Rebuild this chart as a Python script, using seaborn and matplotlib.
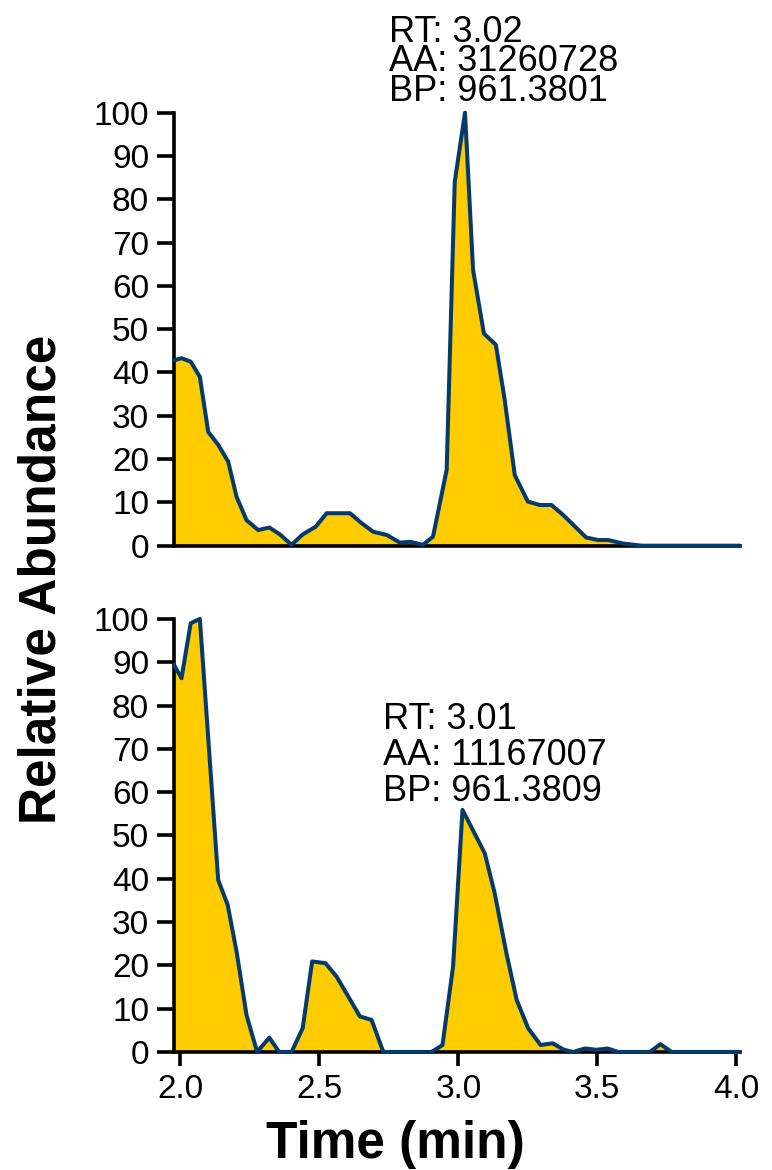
import numpy as np
import pandas as pd
import matplotlib
matplotlib.use("Agg")
import matplotlib.pyplot as plt
import seaborn as sns

# Cromatogramas (tiempo en min, abundancia relativa en %)
top_time = [1.977, 2.004, 2.037, 2.07, 2.10, 2.136, 2.172, 2.202, 2.238, 2.28, 2.32,
            2.358, 2.40, 2.44, 2.487, 2.526, 2.61, 2.652, 2.694, 2.742, 2.79, 2.826,
            2.873, 2.909, 2.958, 2.987, 3.024, 3.053, 3.092, 3.135, 3.167, 3.203,
            3.25, 3.293, 3.335, 3.377, 3.42, 3.46, 3.503, 3.54, 3.593, 3.66, 4.013]
top_abund = [42.8, 43.3, 42.5, 39.0, 26.3, 23.3, 19.4, 11.3, 5.9, 3.6, 4.2,
             2.6, 0.2, 2.6, 4.4, 7.5, 7.5, 5.2, 3.2, 2.5, 0.7, 0.9,
             0.2, 2.1, 17.5, 84.0, 100.0, 63.7, 49.0, 46.4, 33.6, 16.3,
             10.2, 9.4, 9.4, 7.1, 4.4, 1.9, 1.3, 1.3, 0.5, 0.0, 0.0]

bot_time = [1.977, 2.004, 2.037, 2.07, 2.136, 2.17, 2.202, 2.238, 2.276, 2.32, 2.355,
            2.40, 2.44, 2.474, 2.522, 2.562, 2.604, 2.646, 2.688, 2.73, 2.904, 2.943,
            2.981, 3.015, 3.095, 3.131, 3.173, 3.21, 3.251, 3.296, 3.339, 3.38, 3.413,
            3.455, 3.497, 3.537, 3.575, 3.689, 3.727, 3.767, 4.013]
bot_abund = [89.4, 86.3, 99.0, 100.0, 39.7, 34.0, 23.2, 8.5, 0.0, 3.3, 0.0,
             0.0, 5.5, 20.9, 20.5, 17.4, 12.8, 8.2, 7.4, 0.0, 0.0, 1.6,
             19.7, 55.9, 45.9, 36.6, 22.8, 12.0, 5.5, 1.6, 2.0, 0.5, 0.0,
             0.8, 0.5, 0.8, 0.0, 0.0, 1.8, 0.0, 0.0]

top_notes = ["RT: 3.02", "AA: 31260728", "BP: 961.3801"]
bot_notes = ["RT: 3.01", "AA: 11167007", "BP: 961.3809"]

xticks = [2.0, 2.5, 3.0, 3.5, 4.0]
yticks = list(range(0, 101, 10))

fill_color = "#FFCC00"
line_color = "#063A6A"

sns.set_theme(style="ticks")
plt.rcParams["font.family"] = ["Liberation Sans", "DejaVu Sans"]
plt.rcParams["text.color"] = "black"

fig = plt.figure(figsize=(7.72, 11.7), dpi=100)
ax_top = fig.add_axes([0.2254, 0.5336, 0.733, 0.3701])
ax_bot = fig.add_axes([0.2254, 0.1009, 0.733, 0.3701])


def dibujar(ax, t, y, notas, x_txt, y_txt, interlineado):
    df = pd.DataFrame({"t": t, "y": y})
    ax.fill_between(df["t"], df["y"], 0, color=fill_color, lw=0, zorder=2)
    sns.lineplot(data=df, x="t", y="y", ax=ax, color=line_color, lw=2.9,
                 zorder=4, clip_on=False)
    ax.set_xlim(1.977, 4.013)
    ax.set_ylim(0, 100)
    ax.set_yticks(yticks)
    ax.set_yticklabels([str(v) for v in yticks], fontsize=24)
    ax.set_xlabel("")
    ax.set_ylabel("")
    sns.despine(ax=ax)
    for s in ["left", "bottom"]:
        ax.spines[s].set_linewidth(2.6)
        ax.spines[s].set_color("black")
        ax.spines[s].set_zorder(3)
    ax.tick_params(axis="y", length=12, width=2.6, pad=6, colors="black")
    ax.text(x_txt, y_txt, "\n".join(notas), fontsize=26, ha="left", va="top",
            color="black", linespacing=interlineado, clip_on=False)


dibujar(ax_top, top_time, top_abund, top_notes, 2.752, 122.6, 0.8)
dibujar(ax_bot, bot_time, bot_abund, bot_notes, 2.730, 80.8, 1.03)

ax_top.set_xticks([])
ax_bot.set_xticks(xticks)
ax_bot.set_xticklabels([f"{v:.1f}" for v in xticks], fontsize=24)
ax_bot.tick_params(axis="x", length=10, width=2.6, pad=6, colors="black")

fig.text(0.055, 0.505, "Relative Abundance", rotation=90, fontsize=37,
         fontweight="bold", ha="center", va="center", color="black")
fig.text(395 / 772, 1 - 1158 / 1170, "Time (min)", fontsize=37,
         fontweight="bold", ha="center", va="baseline", color="black")

fig.savefig("out.png", dpi=100)
